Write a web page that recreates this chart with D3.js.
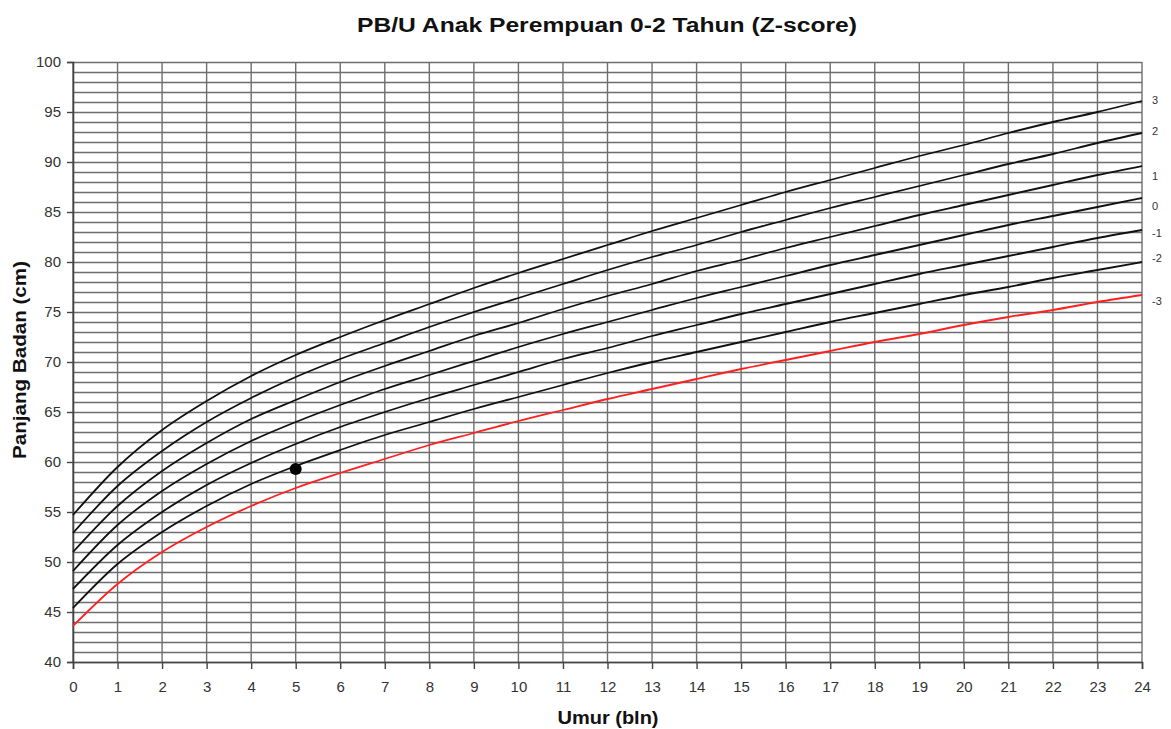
<!DOCTYPE html>
<html><head><meta charset="utf-8">
<script src="https://cdn.jsdelivr.net/npm/d3@7/dist/d3.min.js"></script>
<style>body{margin:0;background:#fff}svg{display:block}text{font-family:"Liberation Sans",Arial,sans-serif}</style>
</head><body><div id="chart"></div>
<script>
const months = d3.range(0, 25);
const zNames = ["3", "2", "1", "0", "-1", "-2", "-3"];
const sdP3 = [54.7,59.5,63.2,66.1,68.6,70.7,72.5,74.2,75.8,77.4,78.9,80.3,81.7,83.1,84.4,85.7,87.0,88.2,89.4,90.6,91.7,92.9,94.0,95.0,96.1];
const sdP2 = [52.9,57.6,61.1,64.0,66.4,68.5,70.3,71.9,73.5,75.0,76.4,77.8,79.2,80.5,81.7,83.0,84.2,85.4,86.5,87.6,88.7,89.8,90.8,91.9,92.9];
const sdP1 = [51.0,55.6,59.1,61.9,64.3,66.2,68.0,69.6,71.1,72.6,73.9,75.3,76.6,77.8,79.1,80.2,81.4,82.5,83.6,84.7,85.7,86.7,87.7,88.7,89.6];
const sd0  = [49.1,53.7,57.1,59.8,62.1,64.0,65.7,67.3,68.7,70.1,71.5,72.8,74.0,75.2,76.4,77.5,78.6,79.7,80.7,81.7,82.7,83.7,84.6,85.5,86.4];
const sdM1 = [47.3,51.7,55.0,57.7,59.9,61.8,63.5,65.0,66.4,67.7,69.0,70.3,71.4,72.6,73.7,74.8,75.8,76.8,77.8,78.8,79.7,80.6,81.5,82.4,83.2];
const sdM2 = [45.4,49.8,53.0,55.6,57.8,59.6,61.2,62.7,64.0,65.3,66.5,67.7,68.9,70.0,71.0,72.0,73.0,74.0,74.9,75.8,76.7,77.5,78.4,79.2,80.0];
const sdM3 = [43.6,47.8,51.0,53.5,55.6,57.4,58.9,60.3,61.7,62.9,64.1,65.2,66.3,67.3,68.3,69.3,70.2,71.1,72.0,72.8,73.7,74.5,75.2,76.0,76.7];
const zLabelValues = [96.2, 93.1, 88.6, 85.6, 82.9, 80.4, 76.1];
const childAge = [5];
const childLength = [59.3];
const yTicks = d3.range(40, 101, 5);
const yGrid = d3.range(40, 101, 1);
const title = "PB/U Anak Perempuan 0-2 Tahun (Z-score)";
const xTitle = "Umur (bln)";
const yTitle = "Panjang Badan (cm)";

const series = [sdP3, sdP2, sdP1, sd0, sdM1, sdM2, sdM3];

const W = 1171, H = 729;
const m = {l: 73, r: 29, t: 62, b: 67};
const svg = d3.select("#chart").append("svg").attr("width", W).attr("height", H);
const x = d3.scaleLinear().domain([0, 24]).range([m.l, W - m.r]);
const y = d3.scaleLinear().domain([40, 100]).range([H - m.b, m.t]);

// grid
const g = svg.append("g");
g.selectAll(".hg").data(yGrid).join("line")
  .attr("x1", x(0)).attr("x2", x(24))
  .attr("y1", d => y(d) + 0.5).attr("y2", d => y(d) + 0.5)
  .attr("stroke", "#6e6e6e").attr("stroke-width", 1.4);
g.selectAll(".vg").data(months).join("line")
  .attr("x1", d => x(d)).attr("x2", d => x(d))
  .attr("y1", y(40)).attr("y2", y(100))
  .attr("stroke", "#6e6e6e").attr("stroke-width", 1.4);

// axes
const yAxis = d3.axisLeft(y).tickValues(yTicks).tickSize(6).tickPadding(6);
const ya = svg.append("g").attr("transform", `translate(${x(0)},0)`).call(yAxis);
const xAxis = d3.axisBottom(x).tickValues(months).tickSize(7).tickPadding(12).tickFormat(d3.format("d"));
const xa = svg.append("g").attr("transform", `translate(0,${y(40)})`).call(xAxis);
[ya, xa].forEach(a => {
  a.select(".domain").attr("stroke", "#444").attr("stroke-width", 1.6);
  a.selectAll(".tick line").attr("stroke", "#444").attr("stroke-width", 1.4);
  a.selectAll(".tick text").attr("font-size", 15).attr("fill", "#333")
   .style("font-family", '"Liberation Sans", Arial, sans-serif');
});

// curves
const line = d3.line().x((d, i) => x(months[i])).y(d => y(d)).curve(d3.curveMonotoneX);
svg.selectAll(".curve").data(series).join("path")
  .attr("d", d => line(d))
  .attr("fill", "none")
  .attr("stroke", (d, i) => i === 6 ? "#ff2020" : "#111")
  .attr("stroke-width", 1.8);

// z labels
svg.selectAll(".zl").data(zNames).join("text")
  .attr("x", x(24) + 10).attr("y", (d, i) => y(zLabelValues[i]))
  .attr("dy", "0.35em").attr("font-size", 11).attr("fill", "#333").text(d => d);

// child point
svg.selectAll(".pt").data(childAge).join("circle")
  .attr("cx", d => x(d)).attr("cy", (d, i) => y(childLength[i])).attr("r", 6).attr("fill", "#000");

// titles
svg.append("text").attr("x", 607).attr("y", 32).attr("text-anchor", "middle")
  .attr("font-size", 20).attr("font-weight", "bold").attr("textLength", 500)
  .attr("lengthAdjust", "spacingAndGlyphs").attr("fill", "#111").text(title);
svg.append("text").attr("x", 608).attr("y", 724).attr("text-anchor", "middle")
  .attr("font-size", 18).attr("font-weight", "bold").attr("textLength", 101)
  .attr("lengthAdjust", "spacingAndGlyphs").attr("fill", "#111").text(xTitle);
svg.append("text").attr("transform", "translate(26,360) rotate(-90)").attr("text-anchor", "middle")
  .attr("font-size", 18).attr("font-weight", "bold").attr("textLength", 198)
  .attr("lengthAdjust", "spacingAndGlyphs").attr("fill", "#111").text(yTitle);
</script></body></html>
